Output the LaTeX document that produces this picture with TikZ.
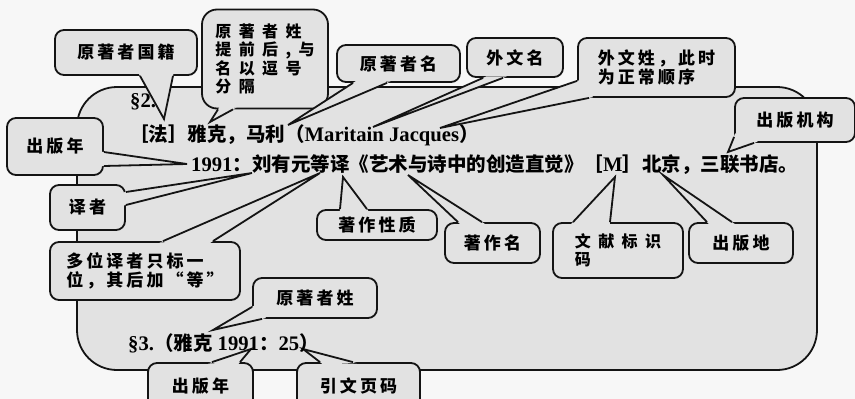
\documentclass[tikz,border=0pt]{standalone}
\usepackage{fontspec}
\setmainfont{Liberation Serif}[Scale=1.06]
\newfontfamily\cjk{Noto Sans CJK SC}
\usetikzlibrary{calc}
\definecolor{ink}{HTML}{141414}
\definecolor{scan}{HTML}{E2E2E2}
\definecolor{paper}{HTML}{F7F7F7}
\newcommand\zh[1]{{\cjk #1}}
\newcommand\notefont{\cjk\bfseries\fontsize{17}{19}\selectfont\addfontfeature{LetterSpace=18}}
\newcommand\widefont{\cjk\bfseries\fontsize{16}{18.5}\selectfont\addfontfeature{LetterSpace=46}}
% pointer of a callout: base point, tip, base point
\newcommand\callptr[3]{%
  \fill[scan] ($#1!-4pt!(#2)$) -- (#2) -- ($#3!-4pt!(#2)$) -- cycle;
  \draw[ptr] #1 -- (#2) -- #3;}

\begin{document}
\begin{tikzpicture}[x=1pt,y=-1pt,
  frame/.style={draw=ink,line width=1.8pt,fill=scan,rounded corners=40pt},
  note/.style={draw=ink,line width=1.8pt,fill=scan,rounded corners=9pt,inner sep=2pt,align=left,font=\notefont},
  wide/.style={note,font=\widefont},
  ptr/.style={draw=ink,line width=1.8pt,line join=miter},
  entry/.style={anchor=west,inner sep=0pt,font=\bfseries\fontsize{19.5}{22}\selectfont}
]
\path[use as bounding box,fill=paper] (0,0) rectangle (855,399);
\clip (0,0) rectangle (855,399);

\node[frame,minimum width=740pt,minimum height=283pt] (card) at (447,228.5) {};

% tips
\coordinate (t-nat) at (164,119);
\coordinate (t-ord) at (210,122);
\coordinate (t-nam) at (288,125);
\coordinate (t-fnm) at (373,127);
\coordinate (t-fsn) at (440,128);
\coordinate (t-pub) at (728,152);
\coordinate (t-yr1) at (187,164);
\coordinate (t-trs) at (252,173);
\coordinate (t-mul) at (320,173);
\coordinate (t-typ) at (343,177);
\coordinate (t-ttl) at (408,175);
\coordinate (t-cod) at (615,177);
\coordinate (t-plc) at (663,175);
\coordinate (t-sur) at (213,330);
\coordinate (t-yr2) at (251,349);
\coordinate (t-pag) at (303,349);

% callouts above the entry
\node[note,minimum width=142pt,minimum height=45pt] (nat) at (126,52.5) {原著者国籍};
\callptr{([xshift=14pt]nat.south)}{t-nat}{([xshift=47pt]nat.south)}
\node[wide,rounded corners=15pt,minimum width=126pt,minimum height=99pt] (ord) at (265,59) {原著者姓\\提前后,与\\名以逗号\\分隔};
\callptr{([xshift=-47pt]ord.south)}{t-ord}{([xshift=-32pt]ord.south)}
\node[note,minimum width=123pt,minimum height=37pt] (nam) at (398.5,63.5) {原著者名};
\callptr{([xshift=-45.5pt]nam.south)}{t-nam}{([xshift=-11.5pt]nam.south)}
\node[note,minimum width=96pt,minimum height=39pt] (fnm) at (515,57.5) {外文名};
\callptr{([xshift=-32pt]fnm.south)}{t-fnm}{([xshift=-12pt]fnm.south)}
\node[note,minimum width=157pt,minimum height=59pt] (fsn) at (656.5,67.5) {外文姓，此时\\为正常顺序};
\callptr{([yshift=17pt]fsn.south west)}{t-fsn}{([xshift=12pt]fsn.south west)}
\node[note,minimum width=120pt,minimum height=44pt] (pub) at (795,120) {出版机构};
\callptr{([yshift=6pt]pub.south west)}{t-pub}{([xshift=20pt]pub.south west)}

% callouts on the left
\node[note,minimum width=96pt,minimum height=57pt] (yr1) at (55,146.5) {出版年};
\callptr{([yshift=-5.5pt]yr1.east)}{t-yr1}{([yshift=-19.5pt]yr1.east)}
\node[note,minimum width=75pt,minimum height=45pt] (trs) at (87.5,207.5) {译者};
\callptr{([yshift=15.5pt]trs.east)}{t-trs}{([yshift=2.5pt]trs.east)}
\node[note,minimum width=190pt,minimum height=58pt] (mul) at (145,271) {多位译者只标一\\位，其后加“等”};
\callptr{([xshift=18pt]mul.north)}{t-mul}{([xshift=68pt]mul.north)}

% callouts below the entry
\node[note,minimum width=120pt,minimum height=30pt] (typ) at (377,225) {著作性质};
\callptr{([xshift=-37pt]typ.north)}{t-typ}{([xshift=-10pt]typ.north)}
\node[note,minimum width=95pt,minimum height=40pt] (ttl) at (492.5,243) {著作名};
\callptr{([xshift=-34.5pt]ttl.north)}{t-ttl}{([xshift=-10.5pt]ttl.north)}
\node[wide,minimum width=130pt,minimum height=55pt] (cod) at (618,250.5) {文献标识\\码};
\callptr{([xshift=-45pt]cod.north)}{t-cod}{([xshift=-8pt]cod.north)}
\node[note,minimum width=104pt,minimum height=40pt] (plc) at (741,243) {出版地};
\callptr{([xshift=-34pt]plc.north)}{t-plc}{([xshift=-9pt]plc.north)}

% callouts of the short citation
\node[note,minimum width=124pt,minimum height=40pt] (sur) at (315,298) {原著者姓};
\callptr{([yshift=12pt]sur.south west)}{t-sur}{([xshift=10pt]sur.south west)}
\node[note,minimum width=105pt,minimum height=46pt] (yr2) at (200.5,386) {出版年};
\callptr{([xshift=11.5pt]yr2.north)}{t-yr2}{([xshift=39.5pt]yr2.north)}
\node[note,minimum width=123pt,minimum height=46pt] (pag) at (358.5,386) {引文页码};
\callptr{([xshift=-38.5pt]pag.north)}{t-pag}{([xshift=-5.5pt]pag.north)}

% the entries
\node[entry] (s2) at (130,102) {§2.};
\node[entry] (l1) at (129,135) {\zh{［法］雅克，马利（}Maritain Jacques\zh{）}};
\node[entry] (l2) at (191,165) {1991\zh{：刘有元等译《艺术与诗中的创造直觉》［}M\zh{］北京，三联书店。}};
\node[entry] (l3) at (128,343) {§3.\zh{（雅克} 1991\zh{：}25\zh{）}};
\end{tikzpicture}
\end{document}
